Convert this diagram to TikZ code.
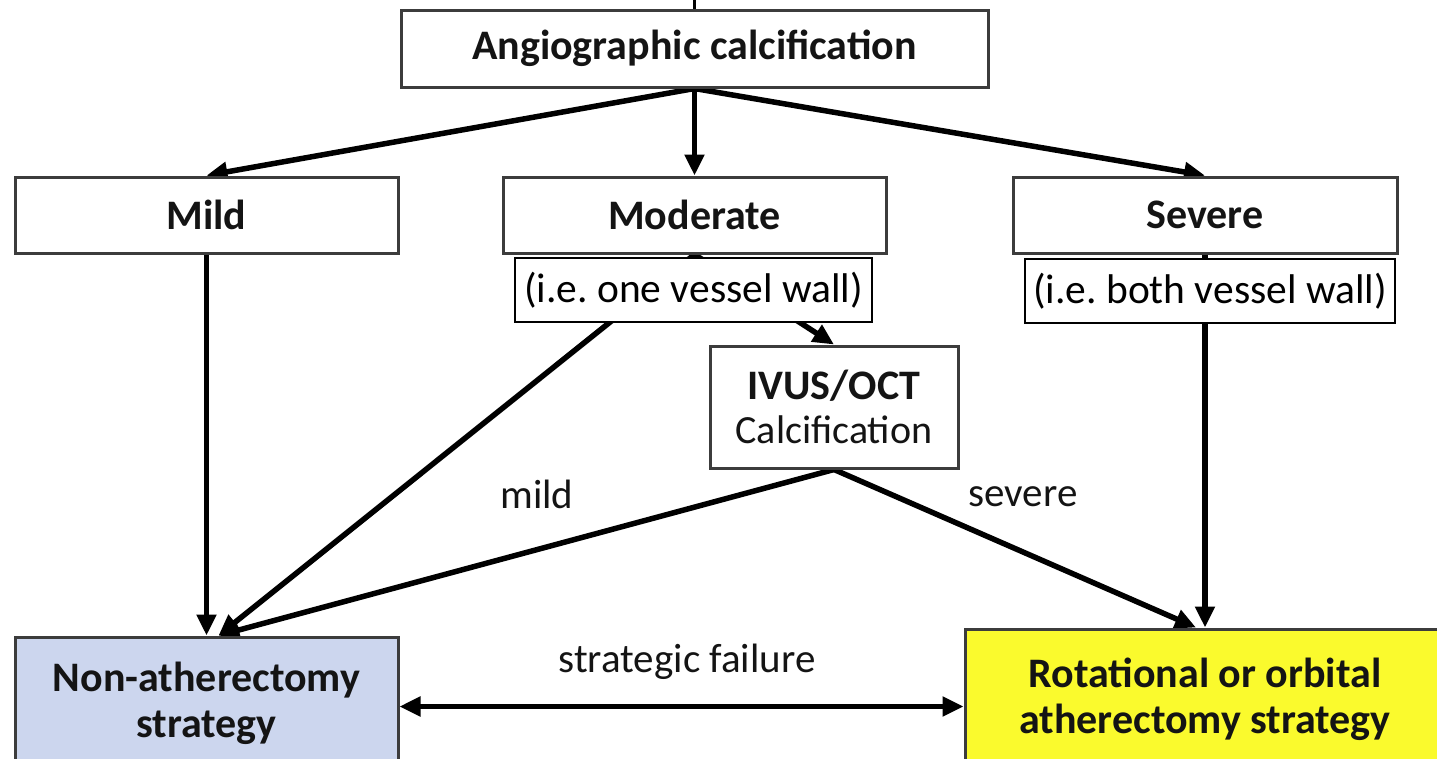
\documentclass[tikz,border=0pt]{standalone}
\usepackage{fontspec}
\setmainfont{Carlito}
\usetikzlibrary{arrows.meta,backgrounds}
\definecolor{boxline}{RGB}{60,60,60}
\definecolor{txt}{RGB}{20,20,20}
\definecolor{nonblue}{RGB}{204,214,238}
\definecolor{rotyellow}{RGB}{250,250,45}
\frenchspacing
\begin{document}
\begin{tikzpicture}[x=1pt,y=-1pt,
  box/.style={draw=boxline, line width=3pt, fill=white, text=txt, inner sep=0pt,
    font=\bfseries\fontsize{42}{46}\selectfont, align=center},
  note/.style={draw=black, line width=1.5pt, fill=white, text=black, inner sep=0pt,
    font=\fontsize{41.5}{46}\selectfont},
  lbl/.style={text=txt, font=\fontsize{41}{46}\selectfont, inner sep=0pt},
  tip/.style={Triangle[length=21pt,width=19pt]},
  conn/.style={line width=5.5pt, draw=black, -{Triangle[length=21pt,width=19pt]}},
  dconn/.style={line width=5pt, draw=black, {Triangle[length=21pt,width=19pt]}-{Triangle[length=21pt,width=19pt]}},
  plain/.style={line width=3pt, draw=black}
]
\useasboundingbox (0,0) rectangle (1437,758);

\node[box, minimum width=587pt, minimum height=77pt] (top) at (694.5,48.5) {\raisebox{-3pt}{Angiographic calcification}};
\node[box, minimum width=383pt, minimum height=76pt] (mild) at (206.5,215) {Mild};
\node[box, minimum width=383pt, minimum height=76pt] (mod) at (694.5,215) {Moderate};
\node[box, minimum width=384pt, minimum height=76pt] (sev) at (1205,215) {Severe};
\node[box, minimum width=248pt, minimum height=122pt] (ivus) at (834,407)
  {IVUS/OCT\\[-2pt]{\mdseries\fontsize{40}{46}\selectfont Calcification}};
\node[box, fill=nonblue, minimum width=383pt, minimum height=133pt] (nonath) at (206.5,703.5)
  {Non-atherectomy\\strategy};
\node[box, fill=rotyellow, minimum width=480pt, minimum height=141pt] (rot) at (1205,699.5)
  {Rotational or orbital\\atherectomy strategy};

\node[note, minimum width=357pt, minimum height=64pt] (onewall) at (693.5,290) {(i.e. one vessel wall)};
\node[note, minimum width=370pt, minimum height=64pt] (bothwall) at (1210,291) {(i.e. both vessel wall)};

\node[lbl] (lmild) at (537,494) {mild};
\node[lbl] (lsev) at (1023,497) {severe};
\node[lbl] (lfail) at (687,662) {strategic failure};

\coordinate (topin) at (694.5,0);

\begin{scope}[on background layer]
  \draw[plain] (topin) -- (top.north);
  \draw[conn] (top.south) -- (mild.north);
  \draw[conn] (top.south) -- (mod.north);
  \draw[conn] (top.south) -- (sev.north);
  \draw[conn] (mild.south) -- (nonath.north);
  \draw[conn] (mod.south) -- ([xshift=12pt]nonath.north);
  \draw[conn] (mod.south) -- (ivus.north);
  \draw[conn] (sev.south) -- (rot.north);
  \draw[conn] (ivus.south) -- ([xshift=12pt]nonath.north);
  \draw[conn] (ivus.south) -- ([xshift=-9pt]rot.north);
  \draw[dconn] ([yshift=-3pt]nonath.east) -- ([yshift=-3pt]nonath.east -| rot.west);
\end{scope}
\end{tikzpicture}
\end{document}
